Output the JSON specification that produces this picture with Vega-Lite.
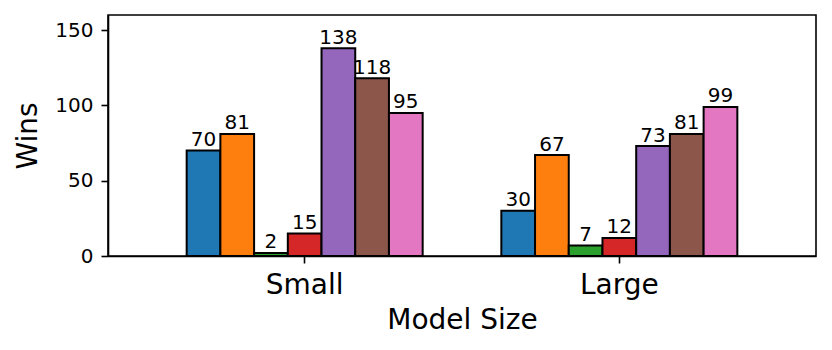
{
  "$schema": "https://vega.github.io/schema/vega-lite/v6.json",
  "autosize": "none",
  "width": 708,
  "height": 241,
  "padding": {"left": 108, "top": 15, "right": 16, "bottom": 94},
  "background": "white",
  "config": {
    "font": "DejaVu Sans",
    "view": {"stroke": "black", "strokeWidth": 1.6},
    "axis": {
      "domainColor": "black",
      "domainWidth": 1.6,
      "tickColor": "black",
      "tickWidth": 1.6,
      "tickSize": 7,
      "labelColor": "black",
      "titleColor": "black",
      "labelFont": "DejaVu Sans",
      "titleFont": "DejaVu Sans",
      "titleFontWeight": "normal",
      "grid": false
    }
  },
  "data": {
    "values": [
      {"size": "Small", "model": "A", "wins": 70},
      {"size": "Small", "model": "B", "wins": 81},
      {"size": "Small", "model": "C", "wins": 2},
      {"size": "Small", "model": "D", "wins": 15},
      {"size": "Small", "model": "E", "wins": 138},
      {"size": "Small", "model": "F", "wins": 118},
      {"size": "Small", "model": "G", "wins": 95},
      {"size": "Large", "model": "A", "wins": 30},
      {"size": "Large", "model": "B", "wins": 67},
      {"size": "Large", "model": "C", "wins": 7},
      {"size": "Large", "model": "D", "wins": 12},
      {"size": "Large", "model": "E", "wins": 73},
      {"size": "Large", "model": "F", "wins": 81},
      {"size": "Large", "model": "G", "wins": 99}
    ]
  },
  "encoding": {
    "x": {
      "field": "size",
      "type": "nominal",
      "sort": ["Small", "Large"],
      "scale": {"paddingInner": 0.25, "paddingOuter": 0.25},
      "axis": {
        "title": "Model Size",
        "labelAngle": 0,
        "labelFontSize": 28,
        "labelPadding": 8,
        "titleFontSize": 28,
        "titlePadding": 7
      }
    },
    "xOffset": {
      "field": "model",
      "type": "nominal",
      "scale": {"paddingInner": 0, "paddingOuter": 0}
    },
    "y": {
      "field": "wins",
      "type": "quantitative",
      "scale": {"domain": [0, 160], "nice": false},
      "axis": {
        "title": "Wins",
        "values": [0, 50, 100, 150],
        "labelFontSize": 20,
        "labelPadding": 8,
        "titleFontSize": 28,
        "titlePadding": 12
      }
    }
  },
  "layer": [
    {
      "mark": {"type": "bar", "stroke": "black", "strokeWidth": 2, "opacity": 1},
      "encoding": {
        "color": {
          "field": "model",
          "type": "nominal",
          "legend": null,
          "scale": {"range": ["#1f77b4", "#ff7f0e", "#2ca02c", "#d62728", "#9467bd", "#8c564b", "#e377c2"]}
        }
      }
    },
    {
      "mark": {"type": "text", "baseline": "alphabetic", "dy": -4.5, "fontSize": 20, "color": "black", "font": "DejaVu Sans"},
      "encoding": {
        "text": {"field": "wins", "type": "quantitative"}
      }
    }
  ]
}
